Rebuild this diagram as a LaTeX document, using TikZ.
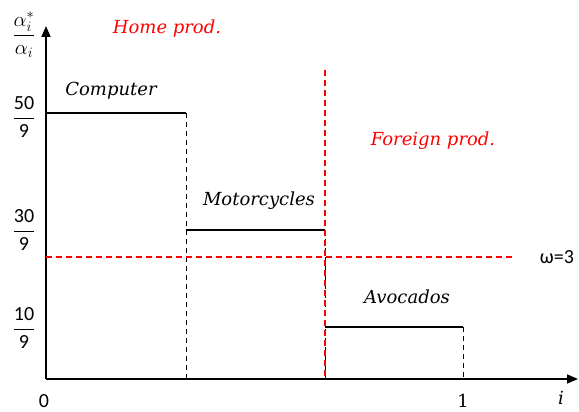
\documentclass[tikz,border=0pt]{standalone}
\usepackage{amsmath}
\usepackage{fontspec}
\setsansfont{Carlito}
\newfontfamily\goodfont{DejaVu Serif}
\usetikzlibrary{arrows.meta}

\begin{document}
\begin{tikzpicture}[x=1pt,y=-1pt]
\tikzset{
  axis/.style={black,line width=1.6pt,-{Triangle[length=11pt,width=9pt]}},
  stepline/.style={black,line width=1.3pt},
  dropline/.style={black,line width=1pt,dash pattern=on 5pt off 4pt},
  redline/.style={red,line width=1.2pt,dash pattern=on 6pt off 4pt},
  good/.style={inner sep=0pt,font=\goodfont\itshape\fontsize{18}{21}\selectfont},
  region/.style={good,text=red},
  ticklab/.style={inner sep=0pt,font=\sffamily\fontsize{20}{24}\selectfont},
}
\useasboundingbox (0,0) rectangle (579,412);
% corners of the schedule
\coordinate (O) at (46,379);
\coordinate (ytop) at (46,26);
\coordinate (xend) at (578,379);
\coordinate (c1) at (46,113);
\coordinate (c2) at (186,113);
\coordinate (c3) at (186,379);
\coordinate (m1) at (186,230);
\coordinate (m2) at (325,230);
\coordinate (m3) at (325,379);
\coordinate (a2) at (463,327);
\coordinate (a3) at (463,379);
\coordinate (a1) at (325,327);
\coordinate (r1) at (325,70);
\coordinate (w1) at (46,257);
\coordinate (w2) at (513,257);
% axes
\draw[axis] (O) -- (ytop);
\draw[axis] (O) -- (xend);
% steps
\draw[stepline] (c1) -- (c2);
\draw[dropline] (c2) -- (c3);
\draw[stepline] (m1) -- (m2);
\draw[dropline] (m2) -- (m3);
\draw[stepline] (a1) -- (a2);
\draw[dropline] (a2) -- (a3);
% wage line and cut-off
\draw[redline] (w1) -- (w2);
\draw[redline] (r1) -- (m3);
% labels
\node[ticklab] (yl) at (24,35) {$\dfrac{\alpha_i^*}{\alpha_i}$};
\node[ticklab] (f50) at (24,117) {$\dfrac{\mbox{50}}{\mbox{9}}$};
\node[ticklab] (f30) at (24,230) {$\dfrac{\mbox{30}}{\mbox{9}}$};
\node[ticklab] (f10) at (24,328) {$\dfrac{\mbox{10}}{\mbox{9}}$};
\node[ticklab] (zero) at (44,401) {0};
\node[good,font=\goodfont\fontsize{18}{21}\selectfont] (one) at (463,401) {1};
\node[good] (ilab) at (561,398) {i};
\node[inner sep=0pt,font=\sffamily\fontsize{20}{24}\selectfont] (wlab) at (557,257) {ω=3};
\node[good] (comp) at (111,91) {Computer};
\node[good] (moto) at (259,201) {Motorcycles};
\node[good] (avoc) at (407,297) {Avocados};
\node[region] (home) at (167,29) {Home prod.};
\node[region] (foreign) at (433,141) {Foreign prod.};
\end{tikzpicture}
\end{document}
